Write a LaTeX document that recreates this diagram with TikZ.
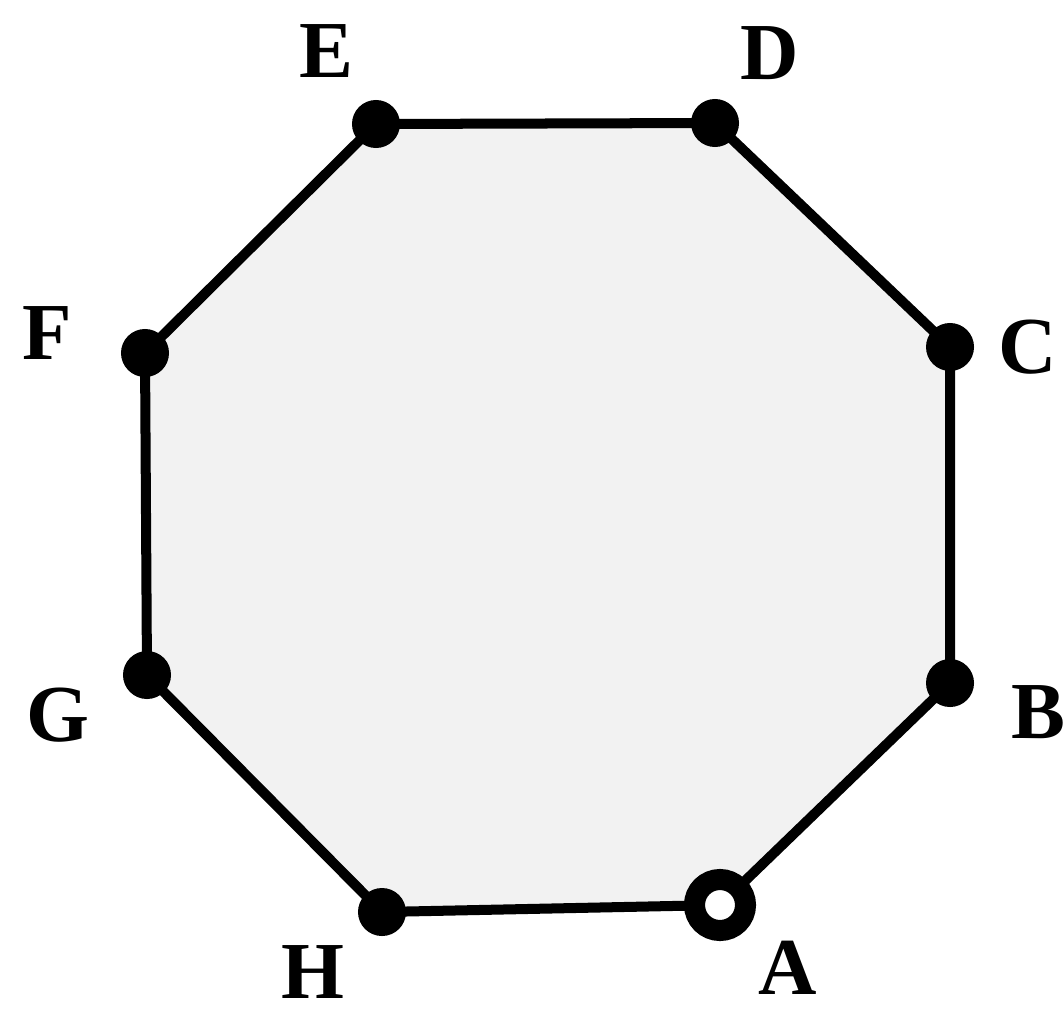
\documentclass[tikz,border=0pt]{standalone}
\usepackage{fontspec}
\setmainfont{Liberation Serif}
\usetikzlibrary{backgrounds}

\begin{document}
\begin{tikzpicture}[
  x=0.01cm, y=-0.01cm,
  vertex/.style={circle, fill=black, inner sep=0pt, minimum size=0.48cm},
  start/.style={circle, draw=black, line width=0.21cm, fill=white, inner sep=0pt, minimum size=0.51cm},
  side/.style={line width=0.1cm, line join=round},
  lbl/.style={font=\fontsize{23}{28}\selectfont\bfseries, inner sep=0pt},
]
\useasboundingbox (0,0) rectangle (1064,1012);

% Vertices
\node[start] (a) at (720,905) {};
\node[vertex] (b) at (950,683) {};
\node[vertex] (c) at (950,347) {};
\node[vertex] (d) at (715,123) {};
\node[vertex] (e) at (376,124) {};
\node[vertex] (f) at (145,353) {};
\node[vertex] (g) at (147,675) {};
\node[vertex] (h) at (382,912) {};

% Octagon
\begin{scope}[on background layer]
\filldraw[side, fill=gray!10] (a.center) -- (b.center) -- (c.center) -- (d.center)
  -- (e.center) -- (f.center) -- (g.center) -- (h.center) -- cycle;
\end{scope}

% Labels
\node[lbl] (la) at (788,968) {A};
\node[lbl] (lb) at (1038,712) {B};
\node[lbl] (lc) at (1028,347) {C};
\node[lbl] (ld) at (770,53) {D};
\node[lbl] (le) at (326,51) {E};
\node[lbl] (lf) at (47,333) {F};
\node[lbl] (lg) at (58,715) {G};
\node[lbl] (lh) at (313,972) {H};

\end{tikzpicture}
\end{document}
